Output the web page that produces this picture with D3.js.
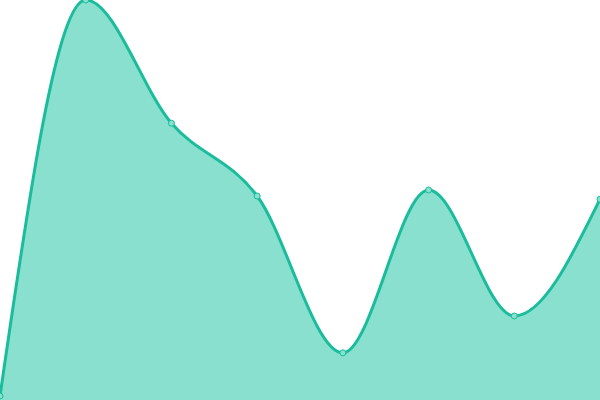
<!DOCTYPE html>
<html>
<head>
<meta charset="utf-8">
<script src="https://cdn.jsdelivr.net/npm/d3@7"></script>
<style>
  body { margin: 0; background: #fff; }
  svg { display: block; }
</style>
</head>
<body>
<svg id="drawing_region"></svg>
<script>
// chart data
const categories = ['A', 'B', 'C', 'D', 'E', 'F', 'G', 'H'];
const values = [1, 100, 69.2, 51, 11.8, 52.5, 21, 50.2];

const width = 600, height = 400;

const svg = d3.select('#drawing_region')
    .attr('width', width)
    .attr('height', height);

const data = categories.map((c, i) => ({ label: c, value: values[i] }));

const xscale = d3.scalePoint()
    .domain(categories)
    .range([0, width]);
const yscale = d3.scaleLinear()
    .domain([0, 100])
    .range([height, 0]);

const area = d3.area()
    .x(d => xscale(d.label))
    .y0(height)
    .y1(d => yscale(d.value))
    .curve(d3.curveMonotoneX);
const line = d3.line()
    .x(d => xscale(d.label))
    .y(d => yscale(d.value))
    .curve(d3.curveMonotoneX);

svg.append('path')
    .datum(data)
    .attr('d', area)
    .attr('fill', '#89e0cf');

svg.append('path')
    .datum(data)
    .attr('d', line)
    .attr('fill', 'none')
    .attr('stroke', '#1abc9c')
    .attr('stroke-width', 3);

svg.selectAll('circle').data(data)
    .join('circle')
    .attr('cx', d => xscale(d.label))
    .attr('cy', d => yscale(d.value))
    .attr('r', 3)
    .attr('fill', '#89e0cf')
    .attr('stroke', '#1abc9c')
    .attr('stroke-width', 1);
</script>
</body>
</html>
